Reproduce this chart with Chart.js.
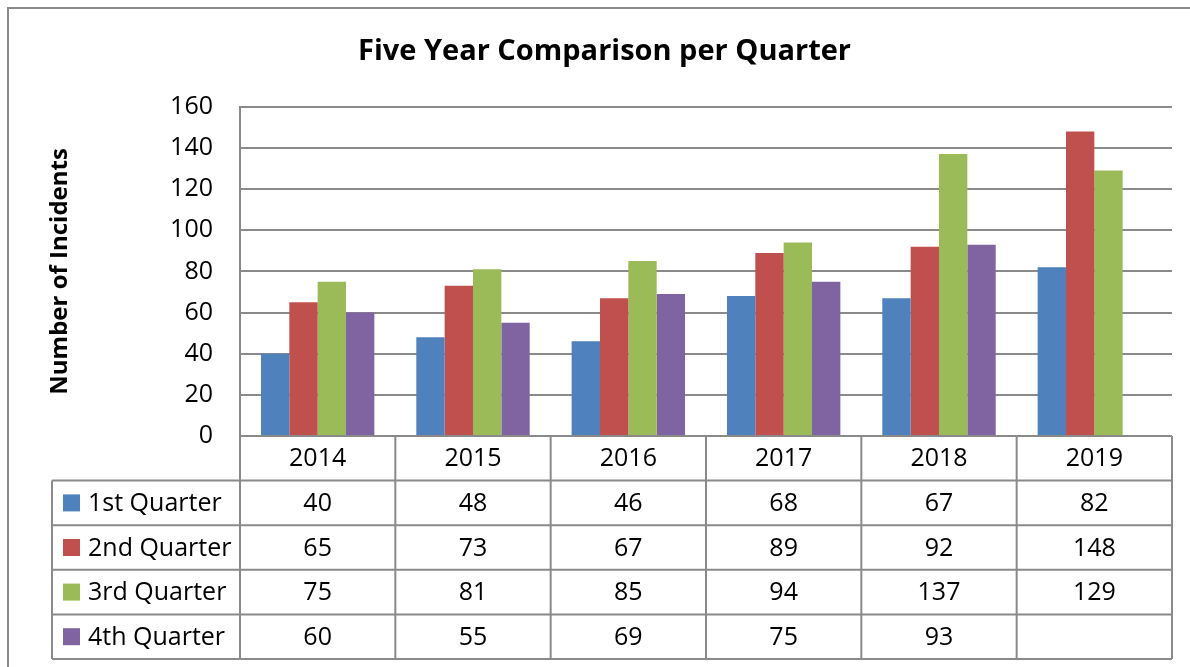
<!DOCTYPE html>
<html>
<head>
<meta charset="utf-8">
<script src="https://cdn.jsdelivr.net/npm/chart.js@4"></script>
<style>
  html, body { margin: 0; padding: 0; background: #ffffff; }
  #wrap { width: 1190px; height: 667px; position: relative; }
</style>
</head>
<body>
<div id="wrap"><canvas id="c" width="1190" height="667"></canvas></div>
<script>
const years = ["2014", "2015", "2016", "2017", "2018", "2019"];
const q1 = [40, 48, 46, 68, 67, 82];
const q2 = [65, 73, 67, 89, 92, 148];
const q3 = [75, 81, 85, 94, 137, 129];
const q4 = [60, 55, 69, 75, 93, null];
const seriesNames = ["1st Quarter", "2nd Quarter", "3rd Quarter", "4th Quarter"];
const seriesColors = ["#4F81BD", "#C0504D", "#9BBB59", "#8064A2"];
const seriesValues = [q1, q2, q3, q4];
const yTicks = [0, 20, 40, 60, 80, 100, 120, 140, 160];

const FONT = "'Open Sans', 'Noto Sans', sans-serif";
const LINE = "#8a8a8a";

const frame = {
  id: 'frame',
  beforeDraw(chart) {
    const ctx = chart.ctx;
    ctx.save();
    ctx.fillStyle = '#ffffff';
    ctx.fillRect(0, 0, chart.width, chart.height);
    ctx.strokeStyle = LINE;
    ctx.lineWidth = 2;
    ctx.beginPath();
    ctx.moveTo(8, chart.height + 2);
    ctx.lineTo(8, 8);
    ctx.lineTo(chart.width + 2, 8);
    ctx.stroke();
    ctx.restore();
  }
};

const dataTable = {
  id: 'dataTable',
  afterDraw(chart) {
    const ctx = chart.ctx;
    const area = chart.chartArea;
    const xs = chart.scales.x;
    const n = years.length;
    const catW = (area.right - area.left) / n;
    const top = area.bottom;
    const bottom = 659;
    const rowH = (bottom - top) / 5;
    const legendLeft = 52;
    ctx.save();
    ctx.strokeStyle = LINE;
    ctx.lineWidth = 2;
    // horizontal lines
    ctx.beginPath();
    ctx.moveTo(area.left, top);
    ctx.lineTo(area.right, top);
    for (let r = 1; r <= 5; r++) {
      const y = top + r * rowH;
      ctx.moveTo(legendLeft, y);
      ctx.lineTo(area.right, y);
    }
    // vertical lines
    ctx.moveTo(legendLeft, top + rowH);
    ctx.lineTo(legendLeft, bottom);
    ctx.moveTo(area.left, top);
    ctx.lineTo(area.left, bottom);
    for (let i = 0; i < n; i++) {
      const xr = xs.getPixelForValue(i) + catW / 2;
      ctx.moveTo(xr, top);
      ctx.lineTo(xr, bottom);
    }
    ctx.stroke();

    ctx.fillStyle = '#000000';
    ctx.font = "25px " + FONT;
    ctx.textBaseline = 'middle';
    ctx.textAlign = 'center';
    for (let i = 0; i < n; i++) {
      const cx = xs.getPixelForValue(i);
      ctx.fillText(years[i], cx, top + rowH / 2 + 1);
      for (let s = 0; s < seriesValues.length; s++) {
        const v = seriesValues[s][i];
        if (v !== null && v !== undefined) {
          ctx.fillText(String(v), cx, top + (s + 1.5) * rowH + 1);
        }
      }
    }
    ctx.textAlign = 'left';
    for (let s = 0; s < seriesNames.length; s++) {
      const cy = top + (s + 1.5) * rowH;
      ctx.fillStyle = seriesColors[s];
      ctx.fillRect(63, cy - 8.5, 17, 17);
      ctx.fillStyle = '#000000';
      ctx.fillText(seriesNames[s], 88, cy + 1);
    }
    ctx.restore();
  }
};

new Chart(document.getElementById('c'), {
  type: 'bar',
  data: {
    labels: years,
    datasets: seriesNames.map((name, s) => ({
      label: name,
      data: seriesValues[s],
      backgroundColor: seriesColors[s],
      borderWidth: 0,
      categoryPercentage: 0.73,
      barPercentage: 1.0
    }))
  },
  options: {
    responsive: false,
    animation: false,
    devicePixelRatio: 1,
    layout: { padding: { left: 37, right: 18, top: 0, bottom: 231 } },
    plugins: {
      legend: { display: false },
      tooltip: { enabled: false },
      title: {
        display: true,
        text: 'Five Year Comparison per Quarter',
        color: '#000000',
        font: { family: FONT, size: 29, weight: 'bold' },
        padding: { top: 34, bottom: 38 }
      }
    },
    scales: {
      x: {
        type: 'category',
        display: false,
        offset: true
      },
      y: {
        min: 0,
        max: 160,
        afterFit(scale) { scale.width = 203; },
        afterBuildTicks(scale) { scale.ticks = yTicks.map(v => ({ value: v })); },
        ticks: {
          stepSize: 20,
          padding: 27,
          color: '#000000',
          font: { family: FONT, size: 25 }
        },
        grid: {
          color: LINE,
          lineWidth: 2,
          drawTicks: false
        },
        border: { display: true, color: LINE, width: 2 },
        title: {
          display: true,
          text: 'Number of Incidents',
          color: '#000000',
          font: { family: FONT, size: 24, weight: 'bold' },
          padding: { top: 9, bottom: 0 }
        }
      }
    }
  },
  plugins: [frame, dataTable]
});
</script>
</body>
</html>
